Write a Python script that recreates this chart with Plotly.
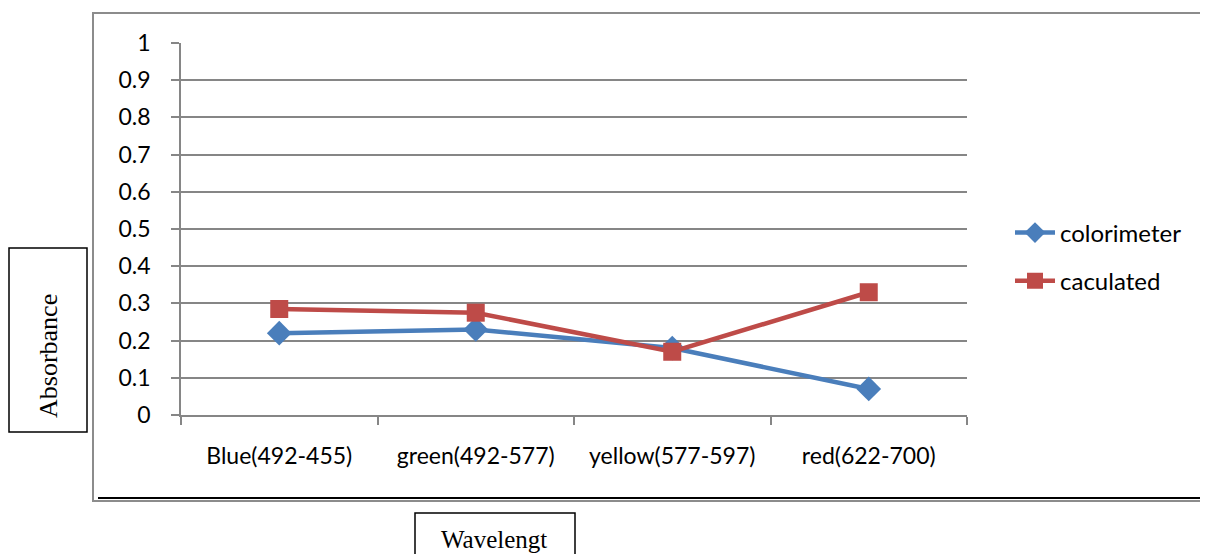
import plotly.graph_objects as go

categories = ["Blue(492-455)", "green(492-577)", "yellow(577-597)", "red(622-700)"]
colorimeter = [0.22, 0.23, 0.18, 0.07]
caculated = [0.285, 0.275, 0.17, 0.33]
y_ticks = [0, 0.1, 0.2, 0.3, 0.4, 0.5, 0.6, 0.7, 0.8, 0.9, 1]
y_tick_labels = ["0", "0.1", "0.2", "0.3", "0.4", "0.5", "0.6", "0.7", "0.8", "0.9", "1"]

OFF = 8  # page body margin
W, H = 1208 - OFF, 554 - OFF
L, R, T, B = 181, 967, 43, 415  # plot area in page pixels


def px(x):
    return (x - L) / (R - L)


def py(y):
    return (B - y) / (B - T)


fig = go.Figure()
fig.add_trace(go.Scatter(
    x=categories, y=colorimeter, name="colorimeter", mode="lines+markers",
    line=dict(color="#4a7ebb", width=4.5),
    marker=dict(symbol="diamond", size=19, color="#4a7ebb"),
    legendgroup="a",
))
fig.add_trace(go.Scatter(
    x=categories, y=caculated, name="caculated", mode="lines+markers",
    line=dict(color="#be4b48", width=4.5),
    marker=dict(symbol="square", size=18, color="#be4b48"),
    legendgroup="b",
))

font_main = "Lato, Carlito, Calibri, 'Open Sans', sans-serif"
serif = "'Liberation Serif', 'Times New Roman', serif"

shapes = [
    dict(type="rect", xref="paper", yref="paper", x0=px(93), x1=px(1240), y0=py(501), y1=py(13),
         line=dict(color="#8c8c8c", width=2), layer="below"),
    dict(type="line", xref="paper", yref="paper", x0=px(98), x1=px(1240), y0=py(498), y1=py(498),
         line=dict(color="#000000", width=2)),
    dict(type="rect", xref="paper", yref="paper", x0=px(9), x1=px(87), y0=py(432), y1=py(248),
         line=dict(color="#000000", width=1.5), fillcolor="white"),
    dict(type="rect", xref="paper", yref="paper", x0=px(415), x1=px(575), y0=py(580), y1=py(513),
         line=dict(color="#000000", width=1.5), fillcolor="white"),
]

annotations = [
    dict(text="Absorbance", xref="paper", yref="paper", x=px(48), y=py(356), showarrow=False,
         textangle=-90, font=dict(family=serif, size=26, color="#000000"),
         xanchor="center", yanchor="middle"),
    dict(text="Wavelengt", xref="paper", yref="paper", x=px(494), y=py(539), showarrow=False,
         font=dict(family=serif, size=25, color="#000000"), xanchor="center", yanchor="middle"),
]

fig.update_layout(
    width=W, height=H,
    margin=dict(l=L - OFF, r=W - (R - OFF), t=T - OFF, b=H - (B - OFF), pad=0),
    paper_bgcolor="white", plot_bgcolor="white",
    font=dict(family=font_main, size=23, color="#000000"),
    shapes=shapes,
    annotations=annotations,
    showlegend=True,
    legend=dict(x=px(1010), y=py(257), xanchor="left", yanchor="middle",
                font=dict(family=font_main, size=24, color="#000000"),
                tracegroupgap=14, bgcolor="rgba(0,0,0,0)", itemwidth=40),
    xaxis=dict(
        type="category", range=[-0.5, 3.5],
        showgrid=False, showline=True, linecolor="#868686", linewidth=1.5,
        ticks="outside", tickson="boundaries", ticklen=8, tickcolor="#868686", tickwidth=1.5,
        tickfont=dict(family=font_main, size=23, color="#000000"),
        ticklabelstandoff=20,
        zeroline=False, fixedrange=True,
    ),
    yaxis=dict(
        range=[0, 1], tickvals=y_ticks, ticktext=y_tick_labels,
        showgrid=True, gridcolor="#868686", gridwidth=1.5,
        showline=True, linecolor="#868686", linewidth=1.5,
        ticks="outside", ticklen=8, tickcolor="#868686", tickwidth=1.5,
        tickfont=dict(family=font_main, size=23, color="#000000"),
        ticklabelstandoff=16,
        zeroline=False, fixedrange=True,
    ),
)

fig.write_html("out.html")
